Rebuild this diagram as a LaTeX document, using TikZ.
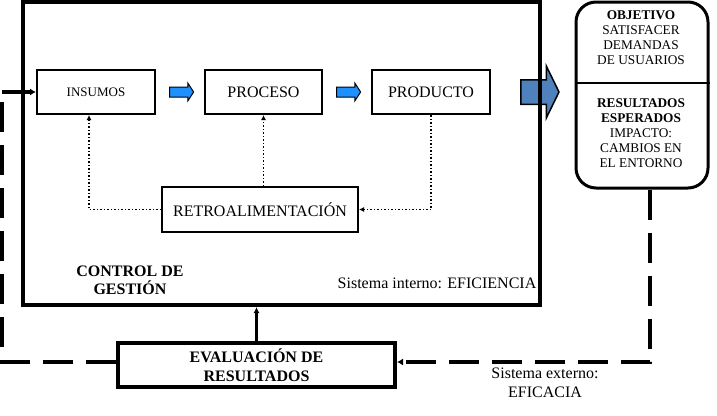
\documentclass[tikz,border=0pt]{standalone}
\usepackage{fontspec}
\setmainfont{Liberation Serif}
\usetikzlibrary{shapes.arrows,arrows.meta}
\definecolor{white}{RGB}{255,255,255}
\definecolor{black}{RGB}{0,0,0}
\definecolor{dodger_blue}{RGB}{30,144,255}
\definecolor{steel_blue}{RGB}{79,129,189}

\tikzset{
	caja/.style={rectangle,draw=black,fill=white,line width=2pt,minimum width=118pt,minimum height=44pt,inner sep=0pt,font=\fontsize{16}{19}\selectfont},
	flechita/.style={single arrow,draw=black,fill=dodger_blue,line width=1pt,inner sep=0pt,inner ysep=4.5pt,minimum height=24pt,single arrow head extend=4pt,single arrow tip angle=114},
	punteada/.style={black,dotted,line width=1.5pt,-{Latex[length=5pt,width=5pt]}},
	linea_ext/.style={black,line width=4pt,dash pattern=on 30pt off 13pt},
	texto/.style={align=center,inner sep=0pt,font=\fontsize{16}{19}\selectfont}
}

\begin{document}
\begin{tikzpicture}[x=1pt,y=-1pt]
	\useasboundingbox (0,0) rectangle (717,415);
	
	% flecha grande hacia el entorno
	\node[single arrow,draw=black,fill=steel_blue,line width=1.5pt,inner sep=0pt,inner ysep=11.5pt,minimum height=38pt,single arrow head extend=13.5pt,single arrow tip angle=128] (salida) at (537,92) {};
	
	% sistema interno
	\node[rectangle,draw=black,line width=4pt,minimum width=517pt,minimum height=303pt] (control) at (281.5,153.5) {};
	\node[caja,font=\fontsize{13}{15}\selectfont] (insumos) at (96,92) {INSUMOS};
	\node[caja,minimum width=117pt] (proceso) at (263.5,92) {PROCESO};
	\node[caja] (producto) at (431,92) {PRODUCTO};
	\node[caja,minimum width=196pt,minimum height=45pt] (retro) at (260,209.5) {RETROALIMENTACIÓN};
	\node[flechita] (f1) at (180,92) {};
	\node[flechita] (f2) at (347,92) {};
	
	\node[texto,font=\fontsize{16}{18}\selectfont\bfseries] (gestion) at (130,280) {CONTROL DE\\GESTIÓN};
	\node[texto] (interno) at (437,283) {Sistema interno: EFICIENCIA};
	
	% objetivo y resultados
	\node[rectangle,rounded corners=20pt,draw=black,line width=3pt,minimum width=132pt,minimum height=186pt] (resultado) at (642,95) {};
	\draw[black,line width=2pt] (resultado.west |- 0,83) -- (resultado.east |- 0,83);
	\node[texto,font=\fontsize{13.3}{15}\selectfont] (objetivo) at (641,38) {\textbf{OBJETIVO}\\SATISFACER\\DEMANDAS\\DE USUARIOS};
	\node[texto,font=\fontsize{13.3}{15}\selectfont] (esperados) at (641,133) {\textbf{RESULTADOS}\\\textbf{ESPERADOS}\\IMPACTO:\\CAMBIOS EN\\EL ENTORNO};
	
	% evaluacion
	\node[caja,line width=4pt,minimum width=277pt,font=\fontsize{16}{19}\selectfont\bfseries,align=center] (evaluacion) at (256.5,365) {EVALUACIÓN DE\\RESULTADOS};
	\node[texto] (externo) at (545,383) {Sistema externo:\\EFICACIA};
	\coordinate (entrada) at (2,92);
	
	% retroalimentacion
	\draw[punteada] (retro.west) -| ([xshift=-7pt]insumos.south);
	\draw[punteada] (retro.north -| proceso.south) -- (proceso.south);
	\draw[punteada] (producto.south) |- (retro.east);
	
	% lazo externo
	\draw[linea_ext,-{Latex[length=6pt,width=7pt]}] ([xshift=8pt]resultado.south) |- ([yshift=3pt]evaluacion.east);
	\draw[linea_ext] ([yshift=3pt]evaluacion.west) -| (entrada);
	\draw[black,line width=3.5pt,-{Latex[length=6pt,width=7pt]}] (entrada) -- (entrada -| insumos.west);
	\draw[black,line width=3pt,-{Latex[length=6pt,width=6pt]}] (evaluacion.north) -- (evaluacion.north |- control.south);
\end{tikzpicture}
\end{document}
